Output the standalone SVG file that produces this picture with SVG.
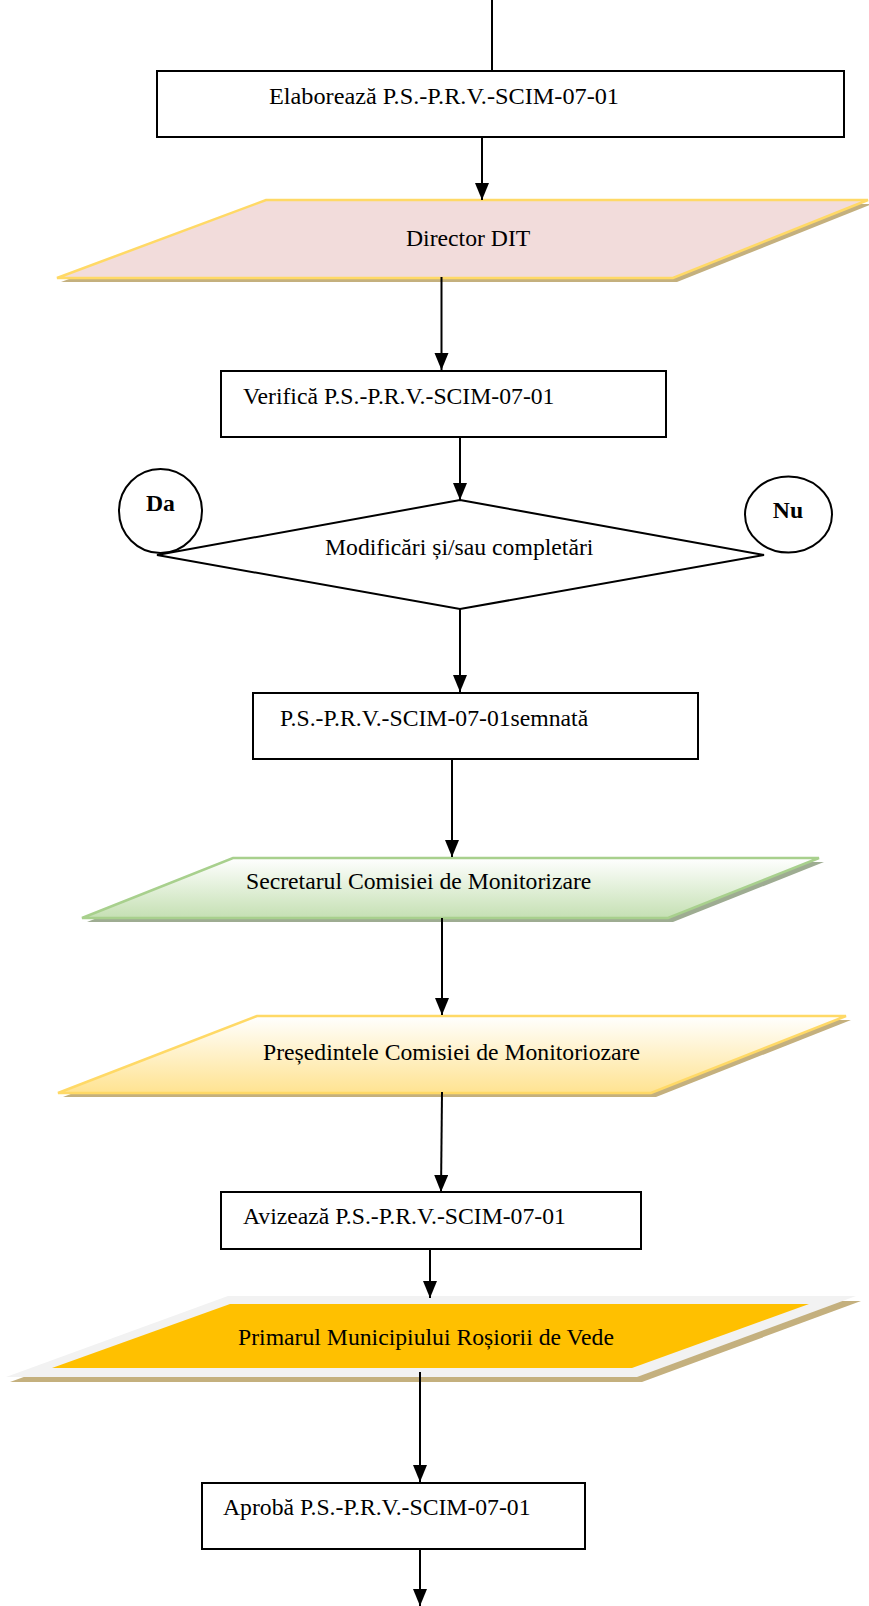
<svg xmlns="http://www.w3.org/2000/svg" width="869" height="1606" viewBox="0 0 869 1606">
<style>
.t{font-family:"Liberation Serif","Times New Roman",serif;font-size:23.7px;fill:#000}
.b{font-weight:bold;text-anchor:middle}
.box{fill:#fff;stroke:#000;stroke-width:2}
.c{stroke:#000;stroke-width:2;fill:none}
.a{marker-end:url(#arr)}
.sh{fill:#c4b07e}
</style>
<defs>
<marker id="arr" markerUnits="userSpaceOnUse" markerWidth="17" markerHeight="15" refX="17" refY="7" orient="auto">
<path d="M0,0 L17,7 L0,14 z" fill="#000"/>
</marker>
<linearGradient id="gGreen" x1="0" y1="0" x2="0" y2="1">
<stop offset="0" stop-color="#ffffff"/>
<stop offset="1" stop-color="#c5e0b3"/>
</linearGradient>
<linearGradient id="gYellow" x1="0" y1="0" x2="0" y2="1">
<stop offset="0" stop-color="#ffffff"/>
<stop offset="1" stop-color="#ffe391"/>
</linearGradient>
</defs>

<g id="n-elaboreaza">
<rect class="box" x="157" y="71" width="687" height="66"/>
<text class="t" x="269" y="104" textLength="350" lengthAdjust="spacingAndGlyphs">Elaborează P.S.-P.R.V.-SCIM-07-01</text>
</g>

<g id="n-director">
<polygon class="sh" points="270,204 872,204 677,282 61,282"/>
<polygon points="266,200 868,200 673,278 57,278" fill="#f2dcdb" stroke="#ffd966" stroke-width="2.5"/>
<text class="t" x="406" y="246">Director DIT</text>
</g>

<g id="n-verifica">
<rect class="box" x="221" y="371" width="445" height="66"/>
<text class="t" x="243" y="404">Verifică P.S.-P.R.V.-SCIM-07-01</text>
</g>

<g id="n-decizie">
<polygon points="460,500 764,555 460,609 157,555" fill="#fff" stroke="#000" stroke-width="2"/>
<text class="t" x="325" y="555">Modificări și/sau completări</text>
</g>

<g id="n-da">
<ellipse cx="160.5" cy="511" rx="41.5" ry="42" fill="#fff" stroke="#000" stroke-width="2"/>
<text class="t b" x="160.5" y="511">Da</text>
</g>

<g id="n-nu">
<ellipse cx="788.5" cy="514.5" rx="43.5" ry="38" fill="#fff" stroke="#000" stroke-width="2"/>
<text class="t b" x="788" y="518">Nu</text>
</g>

<g id="n-semnata">
<rect class="box" x="253" y="693" width="445" height="66"/>
<text class="t" x="280" y="726">P.S.-P.R.V.-SCIM-07-01semnată</text>
</g>

<g id="n-secretar">
<polygon points="238,862 824,862 673,922 87,922" fill="#9eac92"/>
<polygon points="233,858 819,858 668,918 82,918" fill="url(#gGreen)" stroke="#a8d08d" stroke-width="2.5"/>
<text class="t" x="246" y="889">Secretarul Comisiei de Monitorizare</text>
</g>

<g id="n-presedinte">
<polygon class="sh" points="262,1020 851,1020 656,1097 63,1097"/>
<polygon points="257,1016 846,1016 651,1093 58,1093" fill="url(#gYellow)" stroke="#ffd966" stroke-width="2.5"/>
<text class="t" x="263" y="1060">Președintele Comisiei de Monitoriozare</text>
</g>

<g id="n-avizeaza">
<rect class="box" x="221" y="1192" width="420" height="57"/>
<text class="t" x="243" y="1224">Avizează P.S.-P.R.V.-SCIM-07-01</text>
</g>

<g id="n-primar">
<polygon class="sh" points="233,1301 861,1301 642,1382 10,1382"/>
<polygon points="228,1296 856,1296 637,1377 6,1377" fill="#f2f2f2"/>
<polygon points="230,1304 809,1304 632,1368 52,1368" fill="#ffc000"/>
<text class="t" x="238" y="1345">Primarul Municipiului Roșiorii de Vede</text>
</g>

<g id="n-aproba">
<rect class="box" x="202" y="1483" width="383" height="66"/>
<text class="t" x="223" y="1515">Aprobă P.S.-P.R.V.-SCIM-07-01</text>
</g>

<g id="connectors">
<line class="c" x1="492" y1="0" x2="492" y2="71"/>
<line class="c a" x1="482" y1="137" x2="482" y2="200"/>
<line class="c a" x1="441.5" y1="277" x2="441.5" y2="370"/>
<line class="c a" x1="460" y1="437" x2="460" y2="500"/>
<line class="c a" x1="460" y1="609" x2="460" y2="692"/>
<line class="c a" x1="452" y1="759" x2="452" y2="857"/>
<line class="c a" x1="442" y1="918" x2="442" y2="1015"/>
<line class="c a" x1="442" y1="1092" x2="441" y2="1192"/>
<line class="c a" x1="430" y1="1249" x2="430" y2="1298"/>
<line class="c a" x1="420" y1="1372" x2="420" y2="1482"/>
<line class="c a" x1="420" y1="1549" x2="420" y2="1606"/>
</g>
</svg>
